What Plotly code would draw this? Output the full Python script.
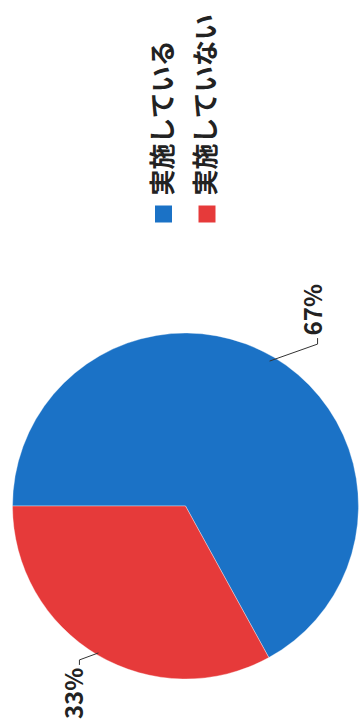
import math
import plotly.graph_objects as go

# ---- data ----
categories = ["実施している", "実施していない"]
values = [67, 33]
colors = ["#1b72c6", "#e63a3a"]

# ---- layout constants (pixels in the 360x724 window) ----
W, H = 360, 724
CX, CY, R = 185.5, 506.0, 173.0    # pie center / radius (window pixels)
ROT = 270                          # first slice starts at 9 o'clock, clockwise

def px(x):
    return x / W

def py(y):
    return 1 - y / H

fig = go.Figure(go.Pie(
    labels=categories,
    values=values,
    sort=False,
    direction="clockwise",
    rotation=ROT,
    marker=dict(colors=colors, line=dict(color="rgba(255,255,255,0.35)", width=1)),
    textinfo="none",
    hoverinfo="label+percent",
    showlegend=False,
    domain=dict(x=[max(0, px(CX - R)), min(1, px(CX + R))], y=[py(CY + R), py(CY - R)]),
))

# percent labels + leader lines, placed from each slice's mid angle
total = sum(values)
start = ROT
annotations = []
shapes = []
for i, v in enumerate(values):
    frac = v / total
    mid = math.radians(start + frac * 360 / 2)
    start += frac * 360
    sx, sy = math.sin(mid), -math.cos(mid)
    right = sx > 0
    x0, y0 = CX + R * sx, CY + R * sy
    kx = x0 + (44 if right else -18)
    ky = y0 + (-13 if right else 5)
    shapes.append(dict(type="line", xref="paper", yref="paper",
                       x0=px(x0 - (4 if right else -1)), y0=py(y0 + (4 if right else -2)),
                       x1=px(kx), y1=py(ky),
                       line=dict(color="#333", width=1)))
    tick = -6 if right else 5
    shapes.append(dict(type="line", xref="paper", yref="paper",
                       x0=px(kx), y0=py(ky), x1=px(kx), y1=py(ky + tick),
                       line=dict(color="#333", width=1)))
    lx = CX + R * 1.3 * sx + (11 if right else 1.5)
    ly = CY + R * 1.3 * sy + (-3 if right else -6)
    annotations.append(dict(
        text=f"<b>{round(frac * 100)}%</b>", x=px(lx), y=py(ly),
        xref="paper", yref="paper", showarrow=False, textangle=-90,
        xanchor="center", yanchor="middle",
        font=dict(size=24, color="#222", family="Noto Sans CJK JP, Noto Sans, sans-serif"),
    ))

# rotated legend (reads bottom to top)
leg_text_x = [160, 203]
leg_box_x = [163.5, 207]
for i, name in enumerate(categories):
    bx = leg_box_x[i]
    shapes.append(dict(type="rect", xref="paper", yref="paper",
                       x0=px(bx - 8.5), x1=px(bx + 8.5), y0=py(222.5), y1=py(205.5),
                       fillcolor=colors[i], line=dict(width=0)))
    annotations.append(dict(
        text=f"<b>{name}</b>", x=px(leg_text_x[i]), y=py(198),
        xref="paper", yref="paper", showarrow=False, textangle=-90,
        xanchor="center", yanchor="bottom",
        font=dict(size=26, color="#222", family="Noto Sans CJK JP, sans-serif"),
    ))

fig.update_layout(
    width=W, height=H,
    margin=dict(l=0, r=0, t=0, b=0),
    paper_bgcolor="white", plot_bgcolor="white",
    annotations=annotations, shapes=shapes,
)

fig.write_html(
    "out.html",
    config={"displayModeBar": False},
    post_script="document.body.style.margin='0';document.body.style.overflow='hidden';",
)
